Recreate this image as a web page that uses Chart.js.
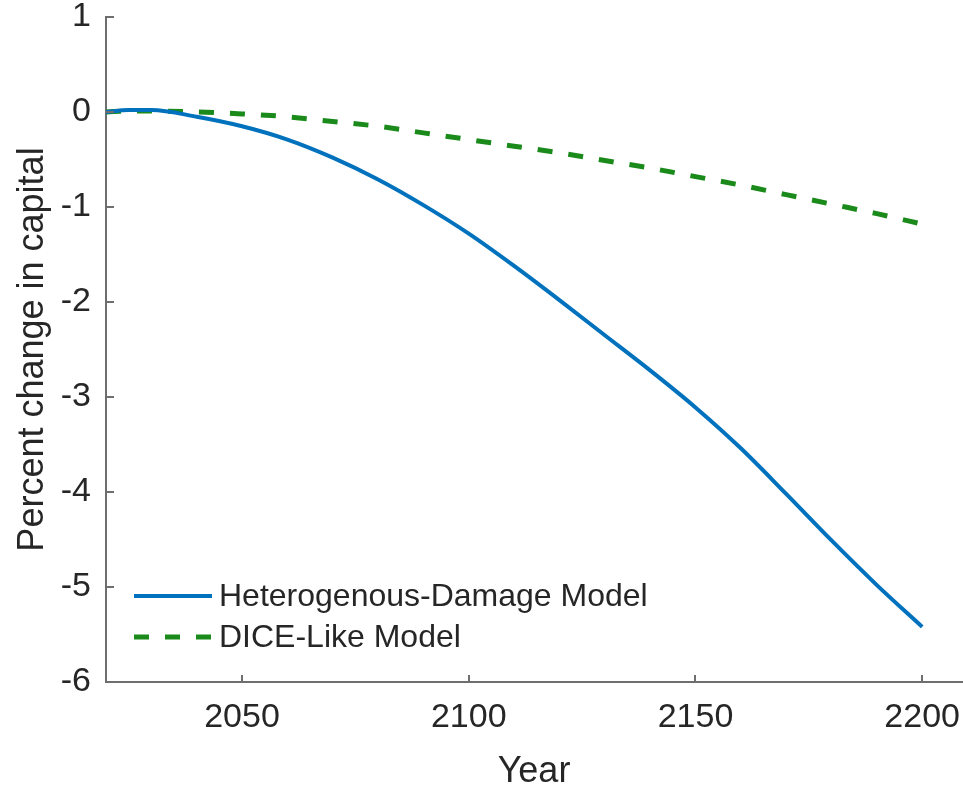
<!DOCTYPE html>
<html>
<head>
<meta charset="utf-8">
<script src="https://cdn.jsdelivr.net/npm/chart.js@4/dist/chart.umd.min.js"></script>
<style>
  html, body { margin: 0; padding: 0; background: #fff; overflow: hidden; }
  #wrap { width: 963px; height: 789px; }
</style>
</head>
<body>
<div id="wrap"><canvas id="capChart" width="963" height="789"></canvas></div>
<script>
// ================= DATA =================
const years = [2020, 2025, 2030, 2040, 2050, 2060, 2070, 2080, 2090, 2100,
               2110, 2120, 2130, 2140, 2150, 2160, 2170, 2180, 2190, 2200];
const heteroDamage = [0, 0.02, 0.02, -0.05, -0.15, -0.29, -0.48, -0.71, -0.98, -1.28,
                      -1.62, -1.98, -2.35, -2.72, -3.11, -3.54, -4.02, -4.51, -4.98, -5.42];
const diceLike = [0, 0.01, 0.01, 0, -0.02, -0.05, -0.10, -0.15, -0.22, -0.29,
                  -0.36, -0.43, -0.51, -0.59, -0.68, -0.77, -0.87, -0.97, -1.07, -1.18];
const seriesNames = ["Heterogenous-Damage Model", "DICE-Like Model"];
const xTicks = [2050, 2100, 2150, 2200];
const yTicks = [1, 0, -1, -2, -3, -4, -5, -6];
const xTitle = "Year";
const yTitle = "Percent change in capital";

const TEXT = "#262626";
const AXIS = "#6e6e6e";
const FONT = "'Liberation Sans', Arial, sans-serif";

const toPoints = vals => vals.map((v, i) => ({ x: years[i], y: v }));

// ticks inside + axis titles + legend inside the plot (matlab style)
const matlabBits = {
  id: "matlabBits",
  afterDraw(c) {
    const ctx = c.ctx;
    const a = c.chartArea;
    const xs = c.scales.x, ys = c.scales.y;
    ctx.save();
    ctx.strokeStyle = AXIS;
    ctx.lineWidth = 2;
    ctx.beginPath();
    xTicks.forEach(v => {
      const px = Math.round(xs.getPixelForValue(v));
      ctx.moveTo(px, a.bottom);
      ctx.lineTo(px, a.bottom - 7);
    });
    yTicks.forEach(v => {
      const py = Math.round(ys.getPixelForValue(v));
      ctx.moveTo(a.left, py);
      ctx.lineTo(a.left + 8, py);
    });
    ctx.stroke();

    // axis titles
    ctx.fillStyle = TEXT;
    ctx.font = "36px " + FONT;
    ctx.textAlign = "center";
    ctx.textBaseline = "alphabetic";
    ctx.fillText(xTitle, 534, 782);
    ctx.save();
    ctx.translate(43, (a.top + a.bottom) / 2);
    ctx.rotate(-Math.PI / 2);
    ctx.fillText(yTitle, 0, 0);
    ctx.restore();

    // legend
    const rows = [596, 637];
    ctx.font = "32px " + FONT;
    ctx.textAlign = "left";
    ctx.textBaseline = "middle";
    c.data.datasets.forEach((ds, i) => {
      ctx.save();
      ctx.strokeStyle = ds.borderColor;
      ctx.lineWidth = ds.borderWidth;
      ctx.setLineDash(ds.borderDash || []);
      ctx.beginPath();
      ctx.moveTo(134, rows[i]);
      ctx.lineTo(212, rows[i]);
      ctx.stroke();
      ctx.restore();
      ctx.fillText(ds.label, 219, rows[i] + 1);
    });
    ctx.restore();
  }
};

new Chart(document.getElementById("capChart").getContext("2d"), {
  type: "line",
  data: {
    datasets: [
      {
        label: seriesNames[0],
        data: toPoints(heteroDamage),
        borderColor: "#0072BD",
        borderWidth: 4,
        pointRadius: 0,
        cubicInterpolationMode: "monotone",
        fill: false
      },
      {
        label: seriesNames[1],
        data: toPoints(diceLike),
        borderColor: "#1a8a1a",
        borderWidth: 5,
        borderDash: [15, 16],
        pointRadius: 0,
        cubicInterpolationMode: "monotone",
        fill: false
      }
    ]
  },
  options: {
    responsive: false,
    devicePixelRatio: 1,
    animation: false,
    layout: { padding: { top: 17, right: 0, left: 0, bottom: 0 } },
    plugins: {
      legend: { display: false },
      tooltip: { enabled: false }
    },
    scales: {
      x: {
        type: "linear",
        min: 2020,
        max: 2209,
        afterBuildTicks: s => { s.ticks = xTicks.map(v => ({ value: v })); },
        afterFit: s => { s.height = 107; s.paddingRight = 0; s.paddingLeft = 0; },
        grid: { display: false, drawTicks: false },
        border: { display: true, color: AXIS, width: 2 },
        ticks: {
          color: TEXT,
          padding: 19,
          maxRotation: 0,
          callback: v => String(v),
          font: { family: FONT, size: 34, lineHeight: 1 }
        }
      },
      y: {
        min: -6,
        max: 1,
        afterBuildTicks: s => { s.ticks = yTicks.map(v => ({ value: v })); },
        afterFit: s => { s.width = 106; s.paddingTop = 0; s.paddingBottom = 0; },
        grid: { display: false, drawTicks: false },
        border: { display: true, color: AXIS, width: 2 },
        ticks: {
          color: TEXT,
          padding: 15,
          callback: v => String(v),
          font: { family: FONT, size: 34, lineHeight: 1 }
        }
      }
    }
  },
  plugins: [matlabBits]
});
</script>
</body>
</html>
